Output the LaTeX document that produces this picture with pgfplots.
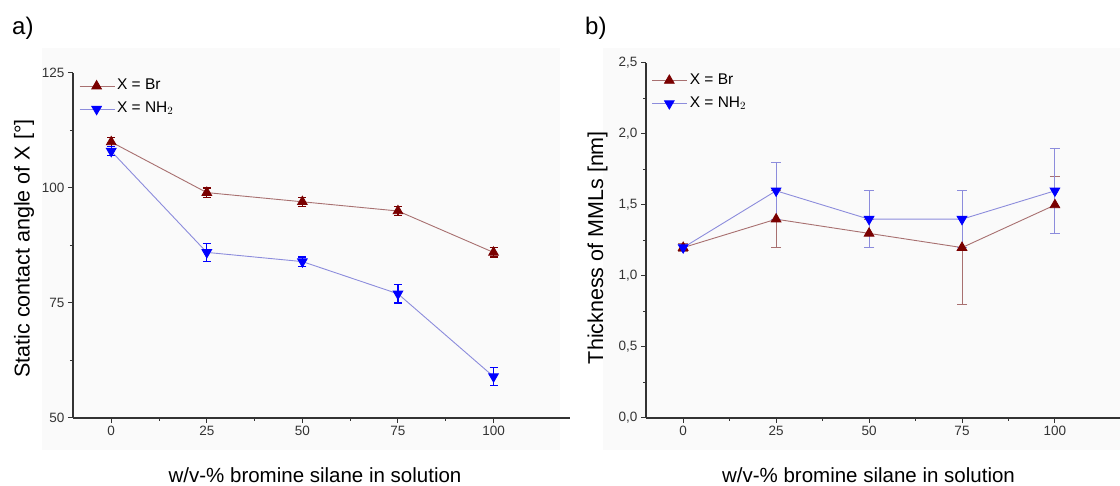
\documentclass[border=0pt]{standalone}
\usepackage{pgfplots}
\pgfplotsset{compat=1.18}
\usepackage{fontspec}
\setmainfont{Liberation Sans}
\definecolor{brm}{HTML}{7A0000}
\definecolor{brl}{HTML}{A87070}
\definecolor{nhm}{HTML}{0000FF}
\definecolor{nhl}{HTML}{8C8CDC}
\definecolor{axc}{HTML}{333333}
\definecolor{bgc}{HTML}{FAFAFA}

\pgfplotstableread{
x y e
0 110 1
25 99 1
50 97 1
75 95 1
100 86 1
}\angBr
\pgfplotstableread{
x y e
0 108 1
25 86 2
50 84 1
75 77 2
100 59 2
}\angNH
\pgfplotstableread{
x y e
0 1.2 0.03
25 1.4 0.2
50 1.3 0.1
75 1.2 0.4
100 1.5 0.2
}\thBr
\pgfplotstableread{
x y e
0 1.2 0.02
25 1.6 0.2
50 1.4 0.2
75 1.4 0.2
100 1.6 0.3
}\thNH

\pgfplotsset{
 myax/.style={
  scale only axis, anchor=south west,
  axis x line=bottom, axis y line=left,
  axis line style={-, axc, line width=1.4pt},
  tick style={axc, line width=1pt},
  tick align=outside,
  major tick length=5pt, minor tick length=3pt,
  xtick={0,25,50,75,100}, minor x tick num=1,
  minor y tick num=1,
  ticklabel style={font=\fontsize{13.5}{15}\selectfont, text=axc},
  /pgf/number format/assume math mode=true,
  xlabel={w/v-\% bromine silane in solution},
  xlabel style={font=\fontsize{20.5}{24}\selectfont, anchor=base},
  ylabel style={font=\fontsize{21.5}{25}\selectfont, anchor=base},
  legend style={draw=none, fill=none, anchor=north west, inner sep=0pt,
    font=\fontsize{15.5}{18}\selectfont,
    nodes={inner sep=2pt, text height=11pt, text depth=4pt},
    row sep=4pt},
  legend cell align=left,
  legend image code/.code={\draw[mark repeat=2,mark phase=2] plot coordinates {(0pt,0pt) (17pt,0pt) (35pt,0pt)};},
  clip=false,
  error bars/y dir=both, error bars/y explicit,
 }
}

\begin{document}
\begin{tikzpicture}
\path[use as bounding box] (0pt,0pt) rectangle (1120pt,486pt);
\fill[bgc] (42pt,36pt) rectangle (560pt,438pt);
\fill[bgc] (603pt,36pt) rectangle (1120pt,438pt);
\node[anchor=base west, inner sep=0pt, font=\fontsize{24}{28}\selectfont] at (12pt,451pt) {a)};
\node[anchor=base west, inner sep=0pt, font=\fontsize{24}{28}\selectfont] at (585pt,451pt) {b)};

\begin{axis}[myax, at={(73pt,68pt)}, width=497pt, height=345pt,
  xmin=-10, xmax=120, ymin=50, ymax=125, ytick={50,75,100,125},
  ylabel={Static contact angle of X [°]},
  ylabel style={at={(axis description cs:-0.0875,0.4913)}},
  xlabel style={at={(axis description cs:0.487,-0.1884)}},
  legend style={at={(axis description cs:0.012,0.99)}},
]
\addplot[brl, line width=0.9pt, mark=triangle*, mark size=5.5pt,
  mark options={brm, fill=brm, solid},
  error bars/error bar style={brm, line width=1.2pt},
  error bars/error mark options={rotate=90, mark size=4pt, brm, line width=1.2pt}]
  table[x=x, y=y, y error=e] {\angBr};
\addlegendentry{X = Br}
\addplot[nhl, line width=0.9pt, mark=triangle*, mark size=5.5pt,
  mark options={nhm, fill=nhm, rotate=180, solid},
  error bars/error bar style={nhm, line width=1.2pt},
  error bars/error mark options={rotate=90, mark size=4pt, nhm, line width=1.2pt}]
  table[x=x, y=y, y error=e] {\angNH};
\addlegendentry{X = NH$_2$}
\end{axis}

\begin{axis}[myax, at={(646pt,68pt)}, width=474pt, height=355pt,
  xmin=-10, xmax=117.5, ymin=0, ymax=2.5, ytick={0,0.5,1,1.5,2,2.5},
  yticklabel style={/pgf/number format/fixed, /pgf/number format/fixed zerofill,
    /pgf/number format/precision=1, /pgf/number format/use comma},
  ylabel={Thickness of MMLs [nm]},
  ylabel style={at={(axis description cs:-0.0907,0.480)}},
  xlabel style={at={(axis description cs:0.4694,-0.1831)}},
  legend style={at={(axis description cs:0.012,0.978)}},
]
\addplot[brl, line width=0.9pt, mark=triangle*, mark size=5.5pt,
  mark options={brm, fill=brm, solid},
  error bars/error bar style={brl, line width=0.9pt},
  error bars/error mark options={rotate=90, mark size=5pt, brl, line width=0.9pt}]
  table[x=x, y=y, y error=e] {\thBr};
\addlegendentry{X = Br}
\addplot[nhl, line width=0.9pt, mark=triangle*, mark size=5.5pt,
  mark options={nhm, fill=nhm, rotate=180, solid},
  error bars/error bar style={nhl, line width=0.9pt},
  error bars/error mark options={rotate=90, mark size=5pt, nhl, line width=0.9pt}]
  table[x=x, y=y, y error=e] {\thNH};
\addlegendentry{X = NH$_2$}
\end{axis}
\end{tikzpicture}
\end{document}
